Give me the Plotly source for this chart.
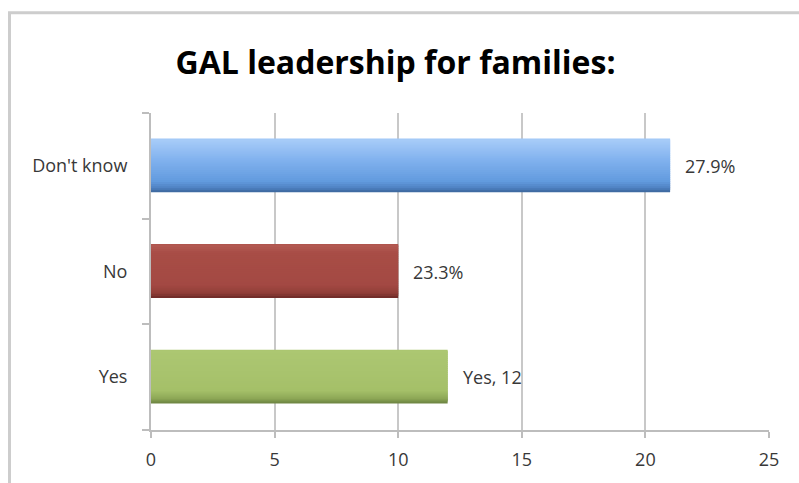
import plotly.graph_objects as go

# Survey responses (counts) and the labels printed beside each bar
categories = ["Yes", "No", "Don't know"]
counts = [12, 10, 21]
bar_labels = ["Yes, 12", "23.3%", "27.9%"]
x_ticks = [0, 5, 10, 15, 20, 25]

title_text = "GAL leadership for families:"

# Colour stops (bottom edge -> top edge) used to shade each bar like an Excel bevel
shade_stops = {
    "Yes": [(0.0, "#6a803f"), (0.1, "#8ea957"), (0.25, "#a5c069"), (1.0, "#acc772")],
    "No": [(0.0, "#6c2926"), (0.1, "#923f39"), (0.25, "#a34943"), (0.85, "#a84d46"), (1.0, "#b35a53")],
    "Don't know": [(0.0, "#3a6498"), (0.08, "#4e81c1"), (0.2, "#619ade"), (0.6, "#80b1ee"), (1.0, "#a8ccf8")],
}


def hex_to_rgb(h):
    h = h.lstrip("#")
    return tuple(int(h[i:i + 2], 16) for i in (0, 2, 4))


def shade_at(stops, t):
    for (t0, c0), (t1, c1) in zip(stops, stops[1:]):
        if t0 <= t <= t1:
            f = 0 if t1 == t0 else (t - t0) / (t1 - t0)
            a, b = hex_to_rgb(c0), hex_to_rgb(c1)
            return "rgb(%d,%d,%d)" % tuple(round(a[k] + (b[k] - a[k]) * f) for k in range(3))
    return stops[-1][1]


FONT = "'Open Sans', Lato, sans-serif"
TEXT_COLOR = "#383838"
GRID = "#c8c8c8"

bar_width = 0.5
n_slices = 26
slice_w = bar_width / n_slices

fig = go.Figure()
for i in range(n_slices):
    t = (i + 0.5) / n_slices
    # each slice overlaps the one above it; the next slice paints over the overlap
    fig.add_trace(go.Bar(
        x=counts,
        y=categories,
        orientation="h",
        offset=-bar_width / 2 + i * slice_w,
        width=slice_w * 2.5 if i < n_slices - 1 else slice_w,
        marker=dict(color=[shade_at(shade_stops[c], t) for c in categories], line_width=0),
        hoverinfo="skip",
        showlegend=False,
    ))

for cat, val, lab in zip(categories, counts, bar_labels):
    fig.add_annotation(
        x=val, y=cat, text=lab, showarrow=False,
        xanchor="left", xshift=13,
        font=dict(family=FONT, size=18, color=TEXT_COLOR),
    )

# Outer chart frame
fig.add_shape(type="rect", xref="paper", yref="paper",
              x0=(9.5 - 151) / 618, x1=(820 - 151) / 618,
              y0=(434 - 520) / 321, y1=(434 - 11.5) / 321,
              line=dict(color="#cdcdcd", width=3), layer="below")

fig.update_layout(
    width=799, height=483,
    margin=dict(l=151, r=30, t=113, b=45),
    paper_bgcolor="white", plot_bgcolor="white",
    barmode="overlay",
    title=dict(text="<b>" + title_text + "</b>", x=0.495, xanchor="center",
               y=1 - 63 / 483, yanchor="middle",
               font=dict(family=FONT, size=32, color="#000000")),
    xaxis=dict(range=[0, 25], tickvals=x_ticks, showgrid=True, gridcolor=GRID, gridwidth=2,
               showline=True, linecolor="#bdbdbd", linewidth=2,
               ticks="outside", ticklen=6, tickcolor="#bdbdbd", tickwidth=2,
               ticklabelstandoff=6,
               zeroline=False, tickfont=dict(family=FONT, size=18, color=TEXT_COLOR)),
    yaxis=dict(categoryorder="array", categoryarray=categories,
               showgrid=False, showline=True, linecolor="#bdbdbd", linewidth=2,
               ticks="outside", tickson="boundaries", ticklen=7, tickcolor="#bdbdbd", tickwidth=2,
               ticklabelstandoff=18, zeroline=False,
               tickfont=dict(family=FONT, size=18, color=TEXT_COLOR)),
    bargap=0.5,
)

fig.write_html("out.html")
